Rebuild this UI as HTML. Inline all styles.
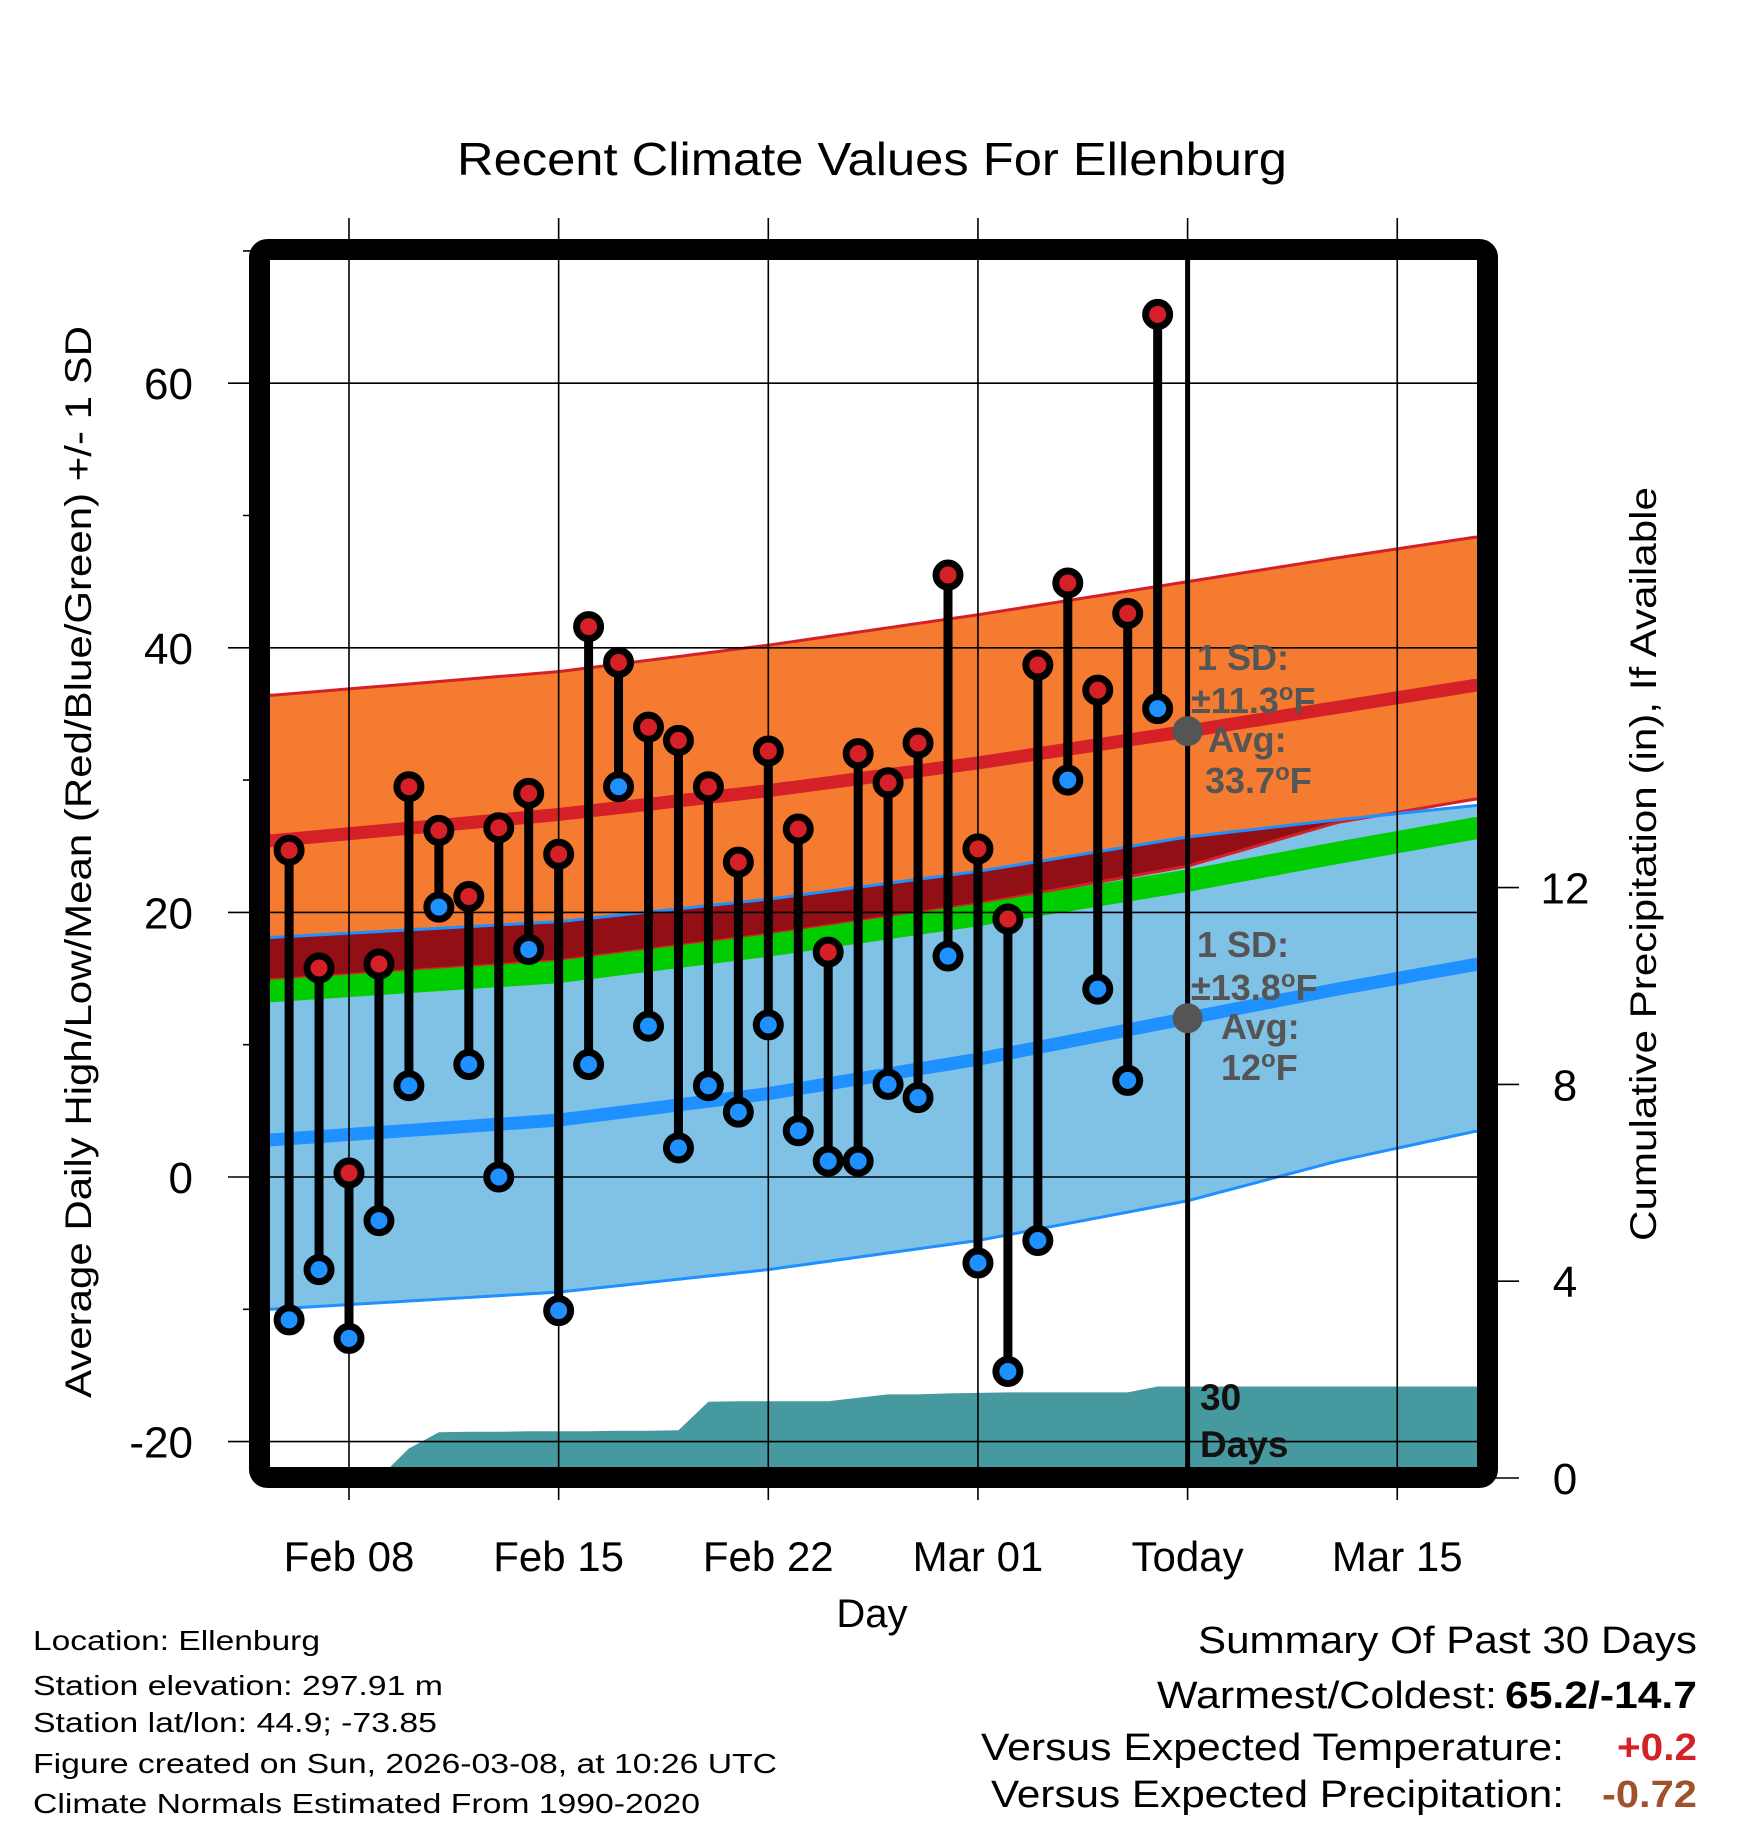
<!DOCTYPE html>
<html><head><meta charset="utf-8"><style>
html,body{margin:0;padding:0;background:#fff;}
svg{display:block;font-family:"Liberation Sans",Arial,sans-serif;}
</style></head><body>
<svg id="chart" width="1748" height="1828" viewBox="0 0 1748 1828" xmlns="http://www.w3.org/2000/svg">
<defs><clipPath id="plotclip"><rect x="270" y="260" width="1208" height="1208"/></clipPath></defs>
<g id="fills" clip-path="url(#plotclip)"></g>
<g id="grid"></g>
<g id="marks"></g>
<g id="annot">
  <text x="872" y="175" font-size="46" text-anchor="middle" textLength="830" lengthAdjust="spacingAndGlyphs">Recent Climate Values For Ellenburg</text>
  <text x="872" y="1627" font-size="40" text-anchor="middle">Day</text>
  <text transform="translate(91,862) rotate(-90)" font-size="37" text-anchor="middle" textLength="1072" lengthAdjust="spacingAndGlyphs">Average Daily High/Low/Mean (Red/Blue/Green) +/- 1 SD</text>
  <text transform="translate(1656,864) rotate(-90)" font-size="37" text-anchor="middle" textLength="754" lengthAdjust="spacingAndGlyphs">Cumulative Precipitation (in), If Available</text>
  <g font-weight="bold" font-size="36" fill="#555">
    <text x="1197" y="670">1 SD:</text>
    <text x="1191" y="713">±11.3<tspan font-size="24" dy="-13">o</tspan><tspan dy="13">F</tspan></text>
    <text x="1208" y="752">Avg:</text>
    <text x="1205" y="793">33.7<tspan font-size="24" dy="-13">o</tspan><tspan dy="13">F</tspan></text>
  </g>
  <g font-weight="bold" font-size="36" fill="#555">
    <text x="1197" y="957">1 SD:</text>
    <text x="1191" y="1000">±13.8<tspan font-size="24" dy="-13">o</tspan><tspan dy="13">F</tspan></text>
    <text x="1221" y="1039">Avg:</text>
    <text x="1221" y="1080">12<tspan font-size="24" dy="-13">o</tspan><tspan dy="13">F</tspan></text>
  </g>
  <g font-weight="bold" font-size="37" fill="#111">
    <text x="1200" y="1410">30</text>
    <text x="1200" y="1457">Days</text>
  </g>
  <g font-size="28" fill="#000">
    <text x="33" y="1650" textLength="287" lengthAdjust="spacingAndGlyphs">Location: Ellenburg</text>
    <text x="33" y="1695" textLength="410" lengthAdjust="spacingAndGlyphs">Station elevation: 297.91 m</text>
    <text x="33" y="1732" textLength="404" lengthAdjust="spacingAndGlyphs">Station lat/lon: 44.9; -73.85</text>
    <text x="33" y="1773" textLength="744" lengthAdjust="spacingAndGlyphs">Figure created on Sun, 2026-03-08, at 10:26 UTC</text>
    <text x="33" y="1813" textLength="667" lengthAdjust="spacingAndGlyphs">Climate Normals Estimated From 1990-2020</text>
  </g>
  <g font-size="38" fill="#000">
    <text x="1198" y="1653" textLength="499" lengthAdjust="spacingAndGlyphs">Summary Of Past 30 Days</text>
    <text x="1157" y="1708" textLength="340" lengthAdjust="spacingAndGlyphs">Warmest/Coldest:</text>
    <text x="1505" y="1708" font-weight="bold" textLength="192" lengthAdjust="spacingAndGlyphs">65.2/-14.7</text>
    <text x="981" y="1760" textLength="583" lengthAdjust="spacingAndGlyphs">Versus Expected Temperature:</text>
    <text x="1617" y="1760" font-weight="bold" fill="#d42026" textLength="80" lengthAdjust="spacingAndGlyphs">+0.2</text>
    <text x="991" y="1807" textLength="573" lengthAdjust="spacingAndGlyphs">Versus Expected Precipitation:</text>
    <text x="1602" y="1807" font-weight="bold" fill="#a0522d" textLength="95" lengthAdjust="spacingAndGlyphs">-0.72</text>
  </g>
</g>
<rect x="259.5" y="249.5" width="1228" height="1228" rx="8" fill="none" stroke="#000" stroke-width="21"/>
</svg>
<script>
// ---- data ----
const days = [-2,-1,0,1,2,3,4,5,6,7,8,9,10,11,12,13,14,15,16,17,18,19,20,21,22,23,24,25,26,27];
const highs = [24.7,15.8,0.3,16.1,29.5,26.2,21.2,26.4,29.0,24.4,41.6,38.9,34.0,33.0,29.5,23.8,32.2,26.3,17.0,32.0,29.8,32.8,45.5,24.8,19.5,38.7,44.9,36.8,42.6,65.2];
const lows = [-10.8,-7.0,-12.2,-3.3,6.9,20.4,8.5,0.0,17.2,-10.1,8.5,29.5,11.4,2.2,6.9,4.9,11.5,3.5,1.2,1.2,7.0,6.0,16.7,-6.5,-14.7,-4.8,30.0,14.2,7.3,35.4];
const precip = [0,0,0,0,0.6,0.93,0.94,0.94,0.95,0.95,0.95,0.96,0.96,0.97,1.55,1.56,1.56,1.56,1.56,1.63,1.70,1.70,1.72,1.73,1.74,1.74,1.74,1.74,1.74,1.86];
const normDays = [-2.64,7,14,21,28,33,37.7];
const highUpper = [36.4,38.2,40.2,42.5,45.0,46.8,48.4];
const highMean = [25.4,27.4,29.2,31.3,33.7,35.5,37.2];
const highLower = [14.9,16.35,18.35,20.65,23.5,26.8,28.6];
const lowUpper = [18.1,19.3,21.0,23.1,25.7,27.0,28.1];
const meanTemp = [14.05,15.5,17.5,19.8,22.4,24.5,26.4];
const lowMean = [2.8,4.3,6.3,8.9,12.0,14.2,16.1];
const lowLower = [-10.0,-8.7,-7.0,-4.8,-1.8,1.2,3.5];
const xTickDays = [0,7,14,21,28,35];
const xTickLabels = ["Feb 08","Feb 15","Feb 22","Mar 01","Today","Mar 15"];
const yTicks = [60,40,20,0,-20];
const yMinor = [70,50,30,10,-10];
const rTicks = [0,4,8,12];
const todayDay = 28, todayHighAvg = 33.7, todayLowAvg = 12;

// ---- axes ----
const X = d => 349 + d*29.95;
const Y = t => 1177 - t*13.23;
const YP = p => 1478 - p*49.2;
const NS = "http://www.w3.org/2000/svg";
function mk(tag, attrs, parent){const e=document.createElementNS(NS,tag);for(const k in attrs)e.setAttribute(k,attrs[k]);parent.appendChild(e);return e;}
function interp(arr, d){
  if(d<=normDays[0]) return arr[0];
  for(let i=1;i<normDays.length;i++){ if(d<=normDays[i]){const f=(d-normDays[i-1])/(normDays[i]-normDays[i-1]);return arr[i-1]+f*(arr[i]-arr[i-1]);} }
  return arr[arr.length-1];
}
const fills=document.getElementById('fills'), grid=document.getElementById('grid'), marks=document.getElementById('marks');
const samp=[]; for(let d=-2.7; d<=37.8; d+=0.25) samp.push(d);
function band(topF, botF, color, name){
  let pts=samp.map(d=>X(d)+','+Y(topF(d)));
  pts=pts.concat(samp.slice().reverse().map(d=>X(d)+','+Y(botF(d))));
  const p=mk('polygon',{points:pts.join(' '),fill:color},fills);
  
  
}
function line(f, color, w, name){
  const p=mk('polyline',{points:samp.map(d=>X(d)+','+Y(f(d))).join(' '),fill:'none',stroke:color,'stroke-width':w},fills);
  
  
}
const hu=d=>interp(highUpper,d), hm=d=>interp(highMean,d), hl=d=>interp(highLower,d), lu=d=>interp(lowUpper,d), mt=d=>interp(meanTemp,d), lm=d=>interp(lowMean,d), ll=d=>interp(lowLower,d);
band(lu, ll, '#80c1e6', 'low-sd-band');
band(hu, d=>Math.max(hl(d),lu(d)), '#f47b30', 'high-sd-band');
band(lu, d=>Math.min(hl(d),lu(d)), '#930f16', 'overlap-band');
line(hu,'#d42026',3,'high-upper-edge');
line(hl,'#d42026',3,'high-lower-edge');
line(lu,'#1e90ff',3,'low-upper-edge');
line(ll,'#1e90ff',3,'low-lower-edge');
band(d=>mt(d)+0.85, d=>mt(d)-0.85, '#00cc00', 'mean-band');
line(hm,'#d42026',13,'high-mean-line');
line(lm,'#1e90ff',13,'low-mean-line');
// precip
let pp=[X(days[0])+','+YP(-1)];
days.forEach((d,i)=>pp.push(X(d)+','+YP(precip[i])));
pp.push(X(40)+','+YP(precip[precip.length-1]));
pp.push(X(40)+','+YP(-1));
const pr=mk('polygon',{points:pp.join(' '),fill:'#4799a0'},fills);



// gridlines and ticks
xTickDays.forEach((d,i)=>{
  const l=mk('line',{x1:X(d),x2:X(d),y1:218,y2:1500,stroke:'#000','stroke-width':1.6},grid);
  
  
  const t=mk('text',{x:X(d),y:1571,'font-size':42,'text-anchor':'middle'},grid);
  t.textContent=xTickLabels[i];
  
  
});
const tl=mk('line',{x1:X(todayDay),x2:X(todayDay),y1:260,y2:1468,stroke:'#000','stroke-width':5},grid);


yTicks.forEach(v=>{
  const l=mk('line',{x1:228,x2:1478,y1:Y(v),y2:Y(v),stroke:'#000','stroke-width':1.6},grid);
  
  
  const t=mk('text',{x:193,y:Y(v)+16,'font-size':44,'text-anchor':'end'},grid);
  t.textContent=String(v);
  
  
});
yMinor.forEach(v=>{
  const l=mk('line',{x1:243,x2:262,y1:Y(v),y2:Y(v),stroke:'#000','stroke-width':1.6},grid);
  
  
});
rTicks.forEach(v=>{
  const l=mk('line',{x1:1480,x2:1519,y1:YP(v),y2:YP(v),stroke:'#000','stroke-width':1.6},grid);
  
  
  const t=mk('text',{x:1565,y:YP(v)+16,'font-size':44,'text-anchor':'middle'},grid);
  t.textContent=String(v);
  
  
});

// daily marks
days.forEach((d,i)=>{
  const s=mk('line',{x1:X(d),x2:X(d),y1:Y(highs[i]),y2:Y(lows[i]),stroke:'#000','stroke-width':9},marks);
  
  
});
days.forEach((d,i)=>{
  const h=mk('circle',{cx:X(d),cy:Y(highs[i]),r:12,fill:'#d42026',stroke:'#000','stroke-width':7},marks);
  
  
  const l=mk('circle',{cx:X(d),cy:Y(lows[i]),r:12,fill:'#1e90ff',stroke:'#000','stroke-width':7},marks);
  
  
});
const g1=mk('circle',{cx:X(todayDay),cy:Y(todayHighAvg),r:15,fill:'#555'},marks);


const g2=mk('circle',{cx:X(todayDay),cy:Y(todayLowAvg),r:15,fill:'#555'},marks);


</script>
</body></html>
